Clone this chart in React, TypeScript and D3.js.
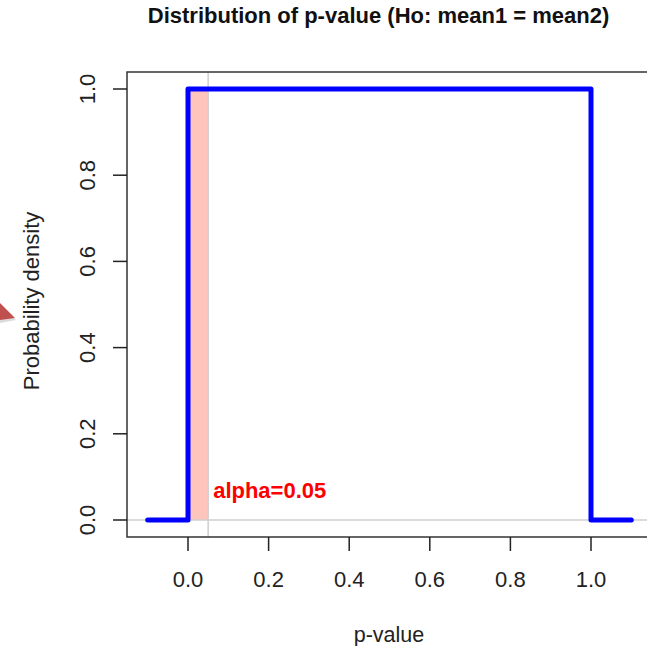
import React from "react";
import * as d3 from "d3";

const pX = [-0.1, 0, 0, 1, 1, 1.1];
const pDensity = [0, 0, 1, 1, 0, 0];
const alphaLevel = 0.05;
const xTicks = [0, 0.2, 0.4, 0.6, 0.8, 1.0];
const yTicks = [0, 0.2, 0.4, 0.6, 0.8, 1.0];

export default function App() {
  const W = 647, H = 646;
  const box = { l: 127, r: 651, t: 72, b: 537 };
  const x = d3.scaleLinear().domain([0, 1]).range([188, 591]);
  const y = d3.scaleLinear().domain([0, 1]).range([520, 89]);
  const pts: [number, number][] = pX.map((v, i) => [v, pDensity[i]]);
  const line = d3.line<[number, number]>().x(d => x(d[0])).y(d => y(d[1]));
  const font = "Arial, 'Liberation Sans', sans-serif";
  return (
    <svg width={W} height={H} style={{ position: "absolute", left: 0, top: 0, background: "#fff" }} fontFamily={font}>
      <rect x={0} y={0} width={W} height={H} fill="#fff" />
      {/* decorative arrow tip */}
      <path d="M0,305 L16,320 L0,323 Z" fill="#b8b8b8" opacity={0.5} />
      <path d="M0,303 L15,318 L0,320 Z" fill="#C0504D" />
      {/* shaded alpha region */}
      <rect x={x(0)} y={y(1)} width={x(alphaLevel) - x(0)} height={y(0) - y(1)} fill="#FFC4BC" />
      {/* reference lines */}
      <line x1={box.l} x2={box.r} y1={y(0)} y2={y(0)} stroke="#cfcfcf" strokeWidth={1.5} />
      <line x1={x(alphaLevel)} x2={x(alphaLevel)} y1={box.t} y2={box.b} stroke="#cfcfcf" strokeWidth={1.5} />
      {/* density line */}
      <path d={line(pts) || ""} fill="none" stroke="#0000FF" strokeWidth={5} strokeLinejoin="round" strokeLinecap="round" />
      {/* box */}
      <rect x={box.l} y={box.t} width={box.r - box.l} height={box.b - box.t} fill="none" stroke="#333" strokeWidth={1.5} />
      {/* x axis */}
      {xTicks.map(t => (
        <g key={"x" + t}>
          <line x1={x(t)} x2={x(t)} y1={box.b} y2={box.b + 14} stroke="#222" strokeWidth={1.5} />
          <text x={x(t)} y={587} textAnchor="middle" fontSize={22} fill="#222">{t.toFixed(1)}</text>
        </g>
      ))}
      {/* y axis */}
      {yTicks.map(t => (
        <g key={"y" + t}>
          <line x1={box.l} x2={box.l - 14} y1={y(t)} y2={y(t)} stroke="#222" strokeWidth={1.5} />
          <text transform={`translate(95,${y(t)}) rotate(-90)`} textAnchor="middle" fontSize={22} fill="#222">{t.toFixed(1)}</text>
        </g>
      ))}
      <text x={x(alphaLevel) + 5} y={498} fontSize={22} fontWeight="bold" fill="#FF0000">alpha=0.05</text>
      <text x={389} y={642} textAnchor="middle" fontSize={21.5} fill="#222">p-value</text>
      <text transform="translate(39,301) rotate(-90)" textAnchor="middle" fontSize={22} fill="#222">Probability density</text>
      <text x={378.5} y={23} textAnchor="middle" fontSize={22} fontWeight="bold" fill="#111">Distribution of p-value (Ho: mean1 = mean2)</text>
    </svg>
  );
}
